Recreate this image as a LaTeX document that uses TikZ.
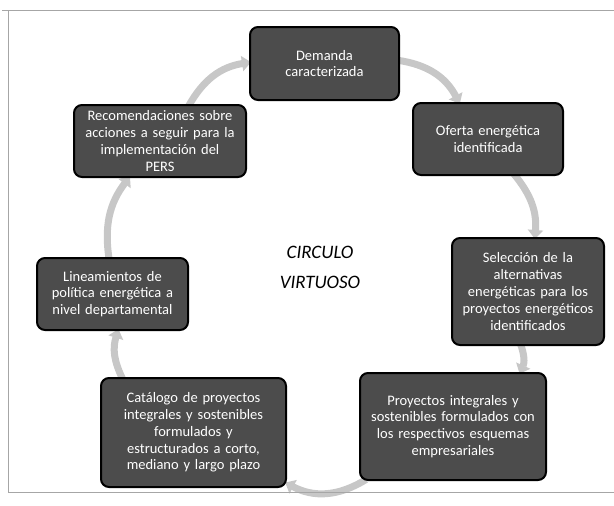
\documentclass[tikz,border=0pt]{standalone}
\usepackage{fontspec}
\setmainfont{Carlito}
\usetikzlibrary{arrows.meta,backgrounds}
\definecolor{boxfill}{gray}{0.30}
\definecolor{ringcol}{gray}{0.78}
\tikzset{
  cyclebox/.style={draw=black, line width=2pt, rounded corners=8pt, fill=boxfill,
    text=white, align=center, font=\fontsize{14.5}{16.8}\selectfont, inner sep=2pt},
  ringarrow/.style={draw=ringcol, line width=7pt, -{Triangle[length=9pt,width=15pt]}, shorten <=-3pt, shorten >=-2pt},
  frameline/.style={draw=gray!70, line width=0.8pt}
}
\begin{document}
\begin{tikzpicture}[x=1pt,y=-1pt]
\useasboundingbox (0,0) rectangle (614,506);
\coordinate (fa) at (2,10);
\coordinate (fb) at (614,10);
\coordinate (fc) at (8,10);
\coordinate (fd) at (8,492);
\coordinate (fe) at (614,492);
\draw[frameline] (fa) -- (fb);
\draw[frameline] (fc) -- (fd);
\draw[frameline] (fd) -- (fe);

\node[cyclebox, minimum width=149pt, minimum height=73pt, text width=140pt] (n1) at (324.5,63.5) {Demanda\\caracterizada};
\node[cyclebox, minimum width=150pt, minimum height=72pt, text width=142pt] (n2) at (488,139) {Oferta energética\\identificada};
\node[cyclebox, minimum width=152pt, minimum height=107pt, text width=146pt] (n3) at (528,291.5) {Selección de la\\alternativas\\energéticas para los\\proyectos energéticos\\identificados};
\node[cyclebox, minimum width=186pt, minimum height=107pt, text width=178pt] (n4) at (453,426.5) {Proyectos integrales y\\sostenibles formulados con\\los respectivos esquemas\\empresariales};
\node[cyclebox, minimum width=185pt, minimum height=109pt, text width=176pt] (n5) at (193.5,432.5) {Catálogo de proyectos\\integrales y sostenibles\\formulados y\\estructurados a corto,\\mediano y largo plazo};
\node[cyclebox, minimum width=151pt, minimum height=72pt, text width=144pt] (n6) at (112.5,294) {Lineamientos de\\política energética a\\nivel departamental};
\node[cyclebox, minimum width=172pt, minimum height=72pt, text width=165pt] (n7) at (160,141) {Recomendaciones sobre\\acciones a seguir para la\\implementación del\\PERS};

\begin{scope}[on background layer]
\draw[ringarrow] (n1) to[bend left=27] (n2);
\draw[ringarrow] (n2) to[bend left=22] (n3);
\draw[ringarrow] (n3) to[bend left=22] (n4);
\draw[ringarrow] (n4) to[bend left=30] (n5);
\draw[ringarrow] (n5) to[bend left=22] (n6);
\draw[ringarrow] (n6) to[bend left=23] (n7);
\draw[ringarrow] (n7) to[bend left=26] (n1);
\end{scope}

\node[font=\fontsize{19}{30}\selectfont\itshape, align=center] (title) at (320,267) {CIRCULO\\VIRTUOSO};
\end{tikzpicture}
\end{document}
